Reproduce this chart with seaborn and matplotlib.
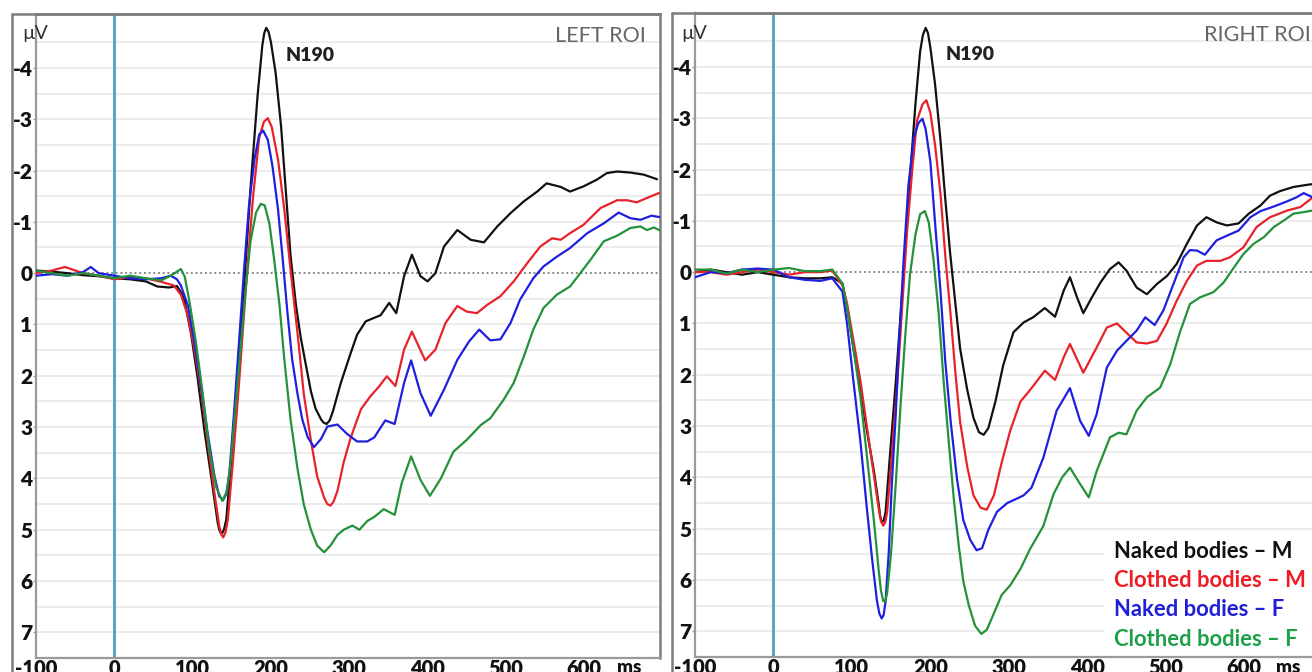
import numpy as np
import pandas as pd
import matplotlib
matplotlib.use("Agg")
import matplotlib.pyplot as plt
import seaborn as sns
from matplotlib.lines import Line2D
from matplotlib.patches import Rectangle

# ---------------------------------------------------------------- data
conditions = ["Naked bodies – M", "Clothed bodies – M", "Naked bodies – F", "Clothed bodies – F"]
line_colors = ["#111111", "#e8222a", "#1f1fe0", "#23923a"]
text_colors = ["#111111", "#ee1c24", "#1f1fd8", "#1ea04a"]
panel_titles = ["LEFT ROI", "RIGHT ROI"]
component_label = "N190"

ytick_values = [-4, -3, -2, -1, 0, 1, 2, 3, 4, 5, 6, 7]
ytick_labels = ["-4", "-3", "-2", "-1", "0", "1", "2", "3", "4", "5", "6", "7"]
xtick_values = [-100, 0, 100, 200, 300, 400, 500, 600]
xtick_labels = ["-100", "0", "100", "200", "300", "400", "500", "600"]

# Left ROI grand averages (ms, microvolts; negative plotted upwards)
t_left_naked_m = [-100, -80, -60, -40, -20, 0, 20, 40, 55, 70, 80, 86, 90, 98, 106, 115, 124, 132, 134, 136, 138, 140,
                  143, 149, 157, 166, 174, 183, 189, 191.5, 194, 197, 200, 206, 213, 219, 225, 232, 238, 244, 251, 257, 264, 267, 271, 275,
                  279, 289, 302, 310, 321, 332, 340, 351, 360, 370, 380, 391, 400, 410, 421, 438, 455, 472, 489, 506,
                  523, 540, 552, 570, 582, 599, 616, 629, 642, 659, 676, 693]
v_left_naked_m = [-0.05, -0.03, 0.0, 0.04, 0.06, 0.1, 0.12, 0.16, 0.26, 0.28, 0.25, 0.4, 0.56, 1.18, 2.0, 3.06, 4.0, 4.86, 5.0, 5.07, 5.06, 5.0,
                  4.8, 3.7, 2.0, 0.2, -1.67, -3.47, -4.44, -4.68, -4.78, -4.7, -4.5, -3.9, -2.85, -1.6, -0.35, 0.63, 1.25, 1.74, 2.3, 2.64, 2.85, 2.91, 2.94, 2.87,
                  2.7, 2.15, 1.55, 1.2, 0.94, 0.87, 0.82, 0.58, 0.78, 0.06, -0.36, 0.06, 0.16, 0.0, -0.52, -0.84, -0.65, -0.6, -0.91, -1.17,
                  -1.4, -1.59, -1.75, -1.68, -1.59, -1.69, -1.82, -1.95, -1.98, -1.96, -1.92, -1.83]

t_left_clothed_m = [-100, -80, -63, -40, -20, 0, 20, 40, 60, 76, 85, 94, 102, 111, 119, 128, 134, 137, 139, 142, 145, 151,
                    160, 168, 177, 185, 191, 196, 201, 209, 217, 225, 234, 242, 251, 259, 268, 272, 276, 280, 285, 293, 302, 315,
                    327, 338, 348, 359, 370, 380, 397, 410, 423, 438, 450, 463, 476, 493, 510, 527, 544, 559, 570, 582,
                    599, 621, 642, 655, 667, 684, 697]
v_left_clothed_m = [0.0, -0.05, -0.12, 0.0, 0.05, 0.12, 0.08, 0.1, 0.17, 0.24, 0.42, 0.83, 1.46, 2.3, 3.26, 4.3, 4.93, 5.1, 5.15, 5.05, 4.8, 3.75,
                    2.0, 0.28, -1.46, -2.64, -2.95, -3.02, -2.85, -2.22, -1.25, -0.07, 1.18, 2.36, 3.26, 3.96, 4.38, 4.5, 4.53, 4.45, 4.24, 3.68, 3.2, 2.65,
                    2.4, 2.21, 2.01, 2.2, 1.49, 1.14, 1.7, 1.49, 0.97, 0.64, 0.75, 0.78, 0.62, 0.45, 0.16, -0.19, -0.52, -0.68, -0.65, -0.78,
                    -0.94, -1.27, -1.42, -1.42, -1.38, -1.49, -1.57]

t_left_naked_f = [-100, -80, -60, -40, -30, -20, 0, 20, 40, 60, 72, 80, 85, 94, 102, 111, 119, 128, 134, 139,
                  143, 147, 153, 160, 166, 172, 179, 185, 190, 196, 202, 209, 215, 221, 227, 234, 240, 247, 255, 264,
                  272, 285, 297, 310, 323, 332, 346, 358, 370, 379, 391, 404, 421, 438, 453, 466, 480, 493, 506, 518,
                  535, 548, 565, 582, 604, 625, 644, 659, 672, 686, 697]
v_left_naked_f = [0.05, 0.02, 0.05, -0.02, -0.12, 0.0, 0.05, 0.1, 0.12, 0.1, 0.05, 0.12, 0.24, 0.63, 1.32, 2.22, 3.1, 3.96, 4.35, 4.42,
                  4.3, 3.9, 2.7, 1.18, -0.14, -1.32, -2.22, -2.7, -2.78, -2.6, -2.08, -1.25, -0.28, 0.76, 1.67, 2.36, 2.85, 3.2, 3.39, 3.23,
                  2.99, 2.95, 3.13, 3.28, 3.28, 3.2, 2.87, 2.94, 2.14, 1.7, 2.34, 2.78, 2.27, 1.69, 1.33, 1.1, 1.31, 1.29, 0.97, 0.52,
                  0.1, -0.13, -0.32, -0.49, -0.78, -0.97, -1.18, -1.07, -1.04, -1.12, -1.09]

t_left_clothed_f = [-100, -80, -60, -40, -20, 0, 20, 40, 60, 72, 80, 85, 90, 96, 104, 113, 121, 130, 138, 144,
                    149, 155, 162, 168, 174, 181, 187, 192, 198, 204, 211, 217, 225, 234, 242, 251, 259, 268, 276, 285,
                    293, 304, 313, 323, 332, 344, 358, 367, 379, 391, 403, 417, 433, 450, 468, 480, 497, 510, 523, 535,
                    548, 565, 582, 595, 608, 625, 642, 659, 672, 680, 689, 697]
v_left_clothed_f = [-0.05, 0.0, 0.05, 0.0, 0.05, 0.1, 0.05, 0.1, 0.14, 0.05, -0.03, -0.08, 0.07, 0.56, 1.32, 2.36, 3.4, 4.17, 4.44, 4.24,
                    3.6, 2.57, 1.32, 0.28, -0.63, -1.18, -1.35, -1.32, -0.97, -0.28, 0.63, 1.67, 2.85, 3.82, 4.51, 5.0, 5.31, 5.44, 5.31, 5.1,
                    5.0, 4.92, 5.0, 4.83, 4.75, 4.6, 4.71, 4.09, 3.57, 4.03, 4.34, 4.0, 3.48, 3.25, 2.96, 2.83, 2.47, 2.14, 1.62, 1.1,
                    0.68, 0.42, 0.26, 0.0, -0.26, -0.62, -0.73, -0.88, -0.91, -0.84, -0.89, -0.83]

# Right ROI grand averages
t_right_naked_m = [-100, -80, -60, -40, -20, 0, 20, 40, 60, 75, 88, 94, 102, 111, 119, 128, 134, 136, 138, 140.5, 143, 149,
                   156, 162, 168, 174, 181, 187, 190.5, 194, 197, 200, 206, 213, 219, 225, 232, 238, 247, 255, 262, 268, 274, 283,
                   293, 306, 319, 331, 346, 359, 370, 378, 387, 395, 406, 417, 429, 440, 450, 463, 476, 489, 502, 514,
                   527, 540, 552, 565, 578, 593, 606, 621, 633, 646, 663, 684, 695]
v_right_naked_m = [0.0, -0.05, 0.0, 0.05, 0.0, 0.05, 0.1, 0.12, 0.12, 0.1, 0.22, 0.7, 1.49, 2.29, 3.08, 3.87, 4.5, 4.75, 4.87, 4.85, 4.67, 3.48,
                   2.13, 0.86, -0.41, -1.84, -3.27, -4.3, -4.62, -4.76, -4.66, -4.38, -3.67, -2.56, -1.44, -0.41, 0.62, 1.49, 2.29, 2.84, 3.12, 3.17, 3.04, 2.52,
                   1.81, 1.17, 0.98, 0.88, 0.7, 0.87, 0.36, 0.1, 0.49, 0.8, 0.49, 0.2, -0.06, -0.19, -0.03, 0.3, 0.43, 0.23, 0.07, -0.16,
                   -0.55, -0.91, -1.07, -0.97, -0.91, -0.95, -1.14, -1.3, -1.49, -1.58, -1.66, -1.71, -1.72]

t_right_clothed_m = [-100, -80, -60, -40, -20, 0, 20, 40, 60, 75, 88, 94, 102, 111, 119, 128, 134, 137, 140, 142.5, 145, 151,
                     158, 164, 170, 177, 183, 190, 195, 200, 206, 213, 219, 226, 232, 238, 247, 255, 264, 272, 281, 291,
                     302, 315, 327, 346, 359, 370, 378, 395, 412, 425, 438, 450, 463, 476, 489, 501, 514, 527, 540, 552,
                     570, 582, 599, 616, 633, 655, 672, 687]
v_right_clothed_m = [0.0, 0.0, 0.05, 0.0, -0.05, 0.0, 0.05, 0.0, 0.0, -0.03, 0.26, 0.62, 1.33, 2.13, 3.0, 3.95, 4.59, 4.85, 4.94, 4.88, 4.67, 3.56,
                     2.13, 0.7, -0.73, -2.0, -2.95, -3.27, -3.35, -3.11, -2.48, -1.52, -0.33, 0.86, 1.97, 2.92, 3.79, 4.35, 4.59, 4.63, 4.35, 3.71,
                     3.08, 2.52, 2.3, 1.92, 2.1, 1.66, 1.4, 1.96, 1.47, 1.08, 1.0, 1.18, 1.37, 1.39, 1.34, 1.01, 0.56, 0.17, -0.13, -0.22,
                     -0.22, -0.29, -0.48, -0.88, -1.07, -1.2, -1.27, -1.45]

t_right_naked_f = [-100, -80, -60, -40, -20, 0, 20, 40, 60, 75, 88, 94, 102, 111, 119, 126, 132, 135, 138, 140.5, 143, 147,
                   151, 156, 160, 166, 172, 179, 185, 190, 194, 200, 206, 213, 219, 226, 234, 242, 251, 259, 266, 274,
                   285, 298, 308, 319, 329, 344, 361, 378, 391, 402, 412, 425, 438, 450, 463, 474, 486, 497, 510, 523,
                   531, 540, 550, 565, 578, 593, 608, 621, 638, 655, 667, 676, 687]
v_right_naked_f = [0.1, 0.0, 0.02, -0.05, -0.07, -0.05, 0.1, 0.15, 0.17, 0.12, 0.38, 1.02, 2.13, 3.32, 4.59, 5.62, 6.41, 6.65, 6.75, 6.68, 6.41, 5.46,
                   4.11, 2.76, 1.41, -0.25, -1.68, -2.63, -2.91, -2.99, -2.79, -2.16, -0.97, 0.38, 1.73, 2.92, 4.03, 4.83, 5.22, 5.42, 5.38, 5.02,
                   4.67, 4.5, 4.43, 4.35, 4.2, 3.62, 2.7, 2.26, 2.9, 3.19, 2.77, 1.86, 1.53, 1.34, 1.14, 0.88, 1.03, 0.75, 0.23, -0.29,
                   -0.43, -0.42, -0.34, -0.62, -0.71, -0.81, -1.07, -1.19, -1.28, -1.38, -1.46, -1.54, -1.46]

t_right_clothed_f = [-100, -80, -60, -40, -20, 0, 20, 40, 60, 75, 88, 94, 102, 111, 119, 128, 134, 137, 140, 142.5, 145, 150,
                     156, 162, 168, 174, 181, 187, 193, 198, 204, 211, 217, 224, 230, 236, 242, 249, 257, 265, 272, 281,
                     291, 302, 315, 327, 344, 357, 368, 378, 391, 402, 412, 429, 440, 450, 463, 476, 493, 506, 518, 531,
                     544, 561, 574, 587, 599, 612, 625, 638, 650, 663, 676, 687]
v_right_clothed_f = [-0.05, -0.05, 0.03, -0.05, 0.0, -0.05, -0.08, -0.02, -0.02, -0.05, 0.22, 0.7, 1.49, 2.44, 3.56, 4.83, 5.78, 6.2, 6.41, 6.42, 6.25, 5.46,
                     4.11, 2.6, 1.25, 0.06, -0.73, -1.13, -1.19, -0.97, -0.25, 0.86, 2.13, 3.4, 4.43, 5.3, 6.02, 6.49, 6.89, 7.05, 6.97, 6.65,
                     6.29, 6.1, 5.78, 5.4, 4.95, 4.33, 4.0, 3.81, 4.13, 4.39, 3.88, 3.22, 3.13, 3.16, 2.7, 2.44, 2.25, 1.79, 1.18, 0.62,
                     0.49, 0.39, 0.2, -0.09, -0.35, -0.55, -0.68, -0.88, -1.0, -1.14, -1.17, -1.2]

left_series = [(t_left_naked_m, v_left_naked_m), (t_left_clothed_m, v_left_clothed_m),
               (t_left_naked_f, v_left_naked_f), (t_left_clothed_f, v_left_clothed_f)]
right_series = [(t_right_naked_m, v_right_naked_m), (t_right_clothed_m, v_right_clothed_m),
                (t_right_naked_f, v_right_naked_f), (t_right_clothed_f, v_right_clothed_f)]


def long_frame(series):
    parts = [pd.DataFrame({"ms": t, "uV": v, "condition": name})
             for name, (t, v) in zip(conditions, series)]
    return pd.concat(parts, ignore_index=True)


# ---------------------------------------------------------------- figure
sns.set_theme(style="white")
plt.rcParams["font.family"] = ["Lato", "DejaVu Sans"]

W, H = 1312, 672
fig = plt.figure(figsize=(W / 100, H / 100), dpi=100)


def fx(px):
    return px / W


def fy(py):
    return 1 - py / H


FRAME = "#7d7d7d"
SPINE = "#9a9a9a"
TICK_TEXT = "#111111"

panels = [
    dict(series=left_series, left=36, top=14, bottom=658, width=624, xlim=(-98.1, 696.8),
         title=panel_titles[0], title_x=646, title_y=36, uv_x=22, ms_x=617),
    dict(series=right_series, left=695, top=13, bottom=657, width=624, xlim=(-99.4, 695.5),
         title=panel_titles[1], title_x=1311, title_y=35, uv_x=681, ms_x=1276),
]

for p in panels:
    ax = fig.add_axes([fx(p["left"]), fy(p["bottom"]), p["width"] / W, (p["bottom"] - p["top"]) / H])
    ax.set_facecolor("white")

    # light horizontal guides every half microvolt
    for g in np.arange(-4.5, 7.51, 0.5):
        if abs(g) > 1e-9:
            ax.axhline(g, color="#ececec", lw=1.5, zorder=0)
    ax.axhline(0, color="#7a7a7a", lw=1.3, ls=(0, (1.0, 1.6)), zorder=1)
    ax.axvline(0, color="#4f9fc4", lw=2.0, zorder=1.5)

    df = long_frame(p["series"])
    sns.lineplot(data=df, x="ms", y="uV", hue="condition", hue_order=conditions,
                 palette=line_colors, estimator=None, sort=True, lw=1.6,
                 legend=False, ax=ax, zorder=3, solid_joinstyle="round")

    ax.set_xlim(*p["xlim"])
    ax.set_ylim(7.5, -5.05)
    ax.set_xlabel("")
    ax.set_ylabel("")
    ax.set_yticks(ytick_values)
    ax.set_yticklabels(ytick_labels, fontsize=15, fontweight="heavy", color=TICK_TEXT)
    ax.set_xticks(xtick_values)
    ax.set_xticklabels(xtick_labels, fontsize=14.5, fontweight="heavy", color=TICK_TEXT)
    ax.tick_params(axis="y", length=2, width=1, color=SPINE, pad=0.6, direction="out", left=True)
    ax.tick_params(axis="x", length=0, pad=1.0, bottom=True)
    for side in ["left", "bottom"]:
        ax.spines[side].set_color(SPINE)
        ax.spines[side].set_linewidth(1.6)
    for side in ["top", "right"]:
        ax.spines[side].set_color(FRAME)
        ax.spines[side].set_linewidth(1.8)

    ax.text(219, -4.25, component_label, fontsize=14, fontweight="heavy",
            color="#222222", ha="left", va="center")

    fig.text(fx(p["title_x"]), fy(p["title_y"]), p["title"], fontsize=15.5,
             color="#666666", ha="right", va="center")
    fig.text(fx(p["uv_x"]), fy(33), "µV", fontsize=14, color="#333333",
             ha="left", va="center")
    fig.text(fx(p["ms_x"]), fy(659), "ms", fontsize=13.5, fontweight="heavy",
             color=TICK_TEXT, ha="left", va="top")

# outer panel frames
fig.add_artist(Line2D([fx(12), fx(12)], [fy(14), fy(680)], color=FRAME, lw=1.8))
fig.add_artist(Line2D([fx(12), fx(660)], [fy(14), fy(14)], color=FRAME, lw=1.8))
fig.add_artist(Line2D([fx(672), fx(672)], [fy(13), fy(680)], color=FRAME, lw=1.8))
fig.add_artist(Line2D([fx(672), fx(1312)], [fy(13), fy(13)], color=FRAME, lw=1.8))

# condition key in the lower right of the right panel
fig.add_artist(Rectangle((fx(1104), fy(655)), (1312 - 1104) / W, (655 - 532) / H,
                         transform=fig.transFigure, facecolor="white", edgecolor="none", zorder=3))
for i, (name, col) in enumerate(zip(conditions, text_colors)):
    fig.text(fx(1114), fy(551 + 29.5 * i), name, fontsize=15.8, fontweight="bold",
             color=col, ha="left", va="center", zorder=4)

fig.savefig("out.png", dpi=100)
